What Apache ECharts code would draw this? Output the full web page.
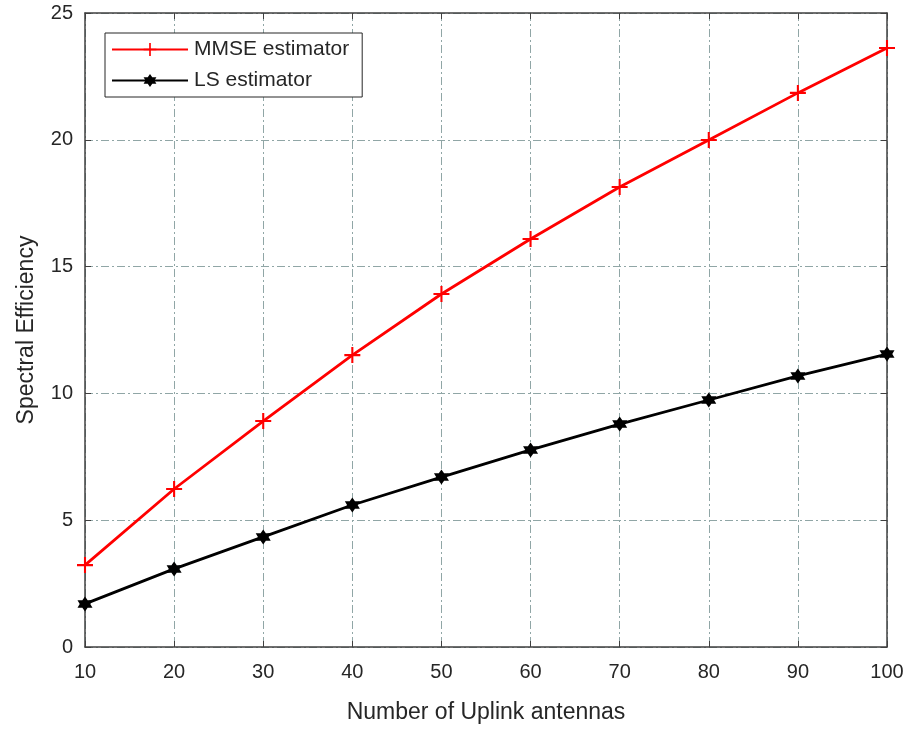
<!DOCTYPE html>
<html>
<head>
<meta charset="utf-8">
<script src="https://cdn.jsdelivr.net/npm/echarts@6/dist/echarts.min.js"></script>
<style>
  html, body { margin: 0; padding: 0; background: #fff; }
  #chart { width: 910px; height: 731px; }
</style>
</head>
<body>
<div id="chart"></div>
<script>
// Number of uplink antennas
const antennas = [10, 20, 30, 40, 50, 60, 70, 80, 90, 100];
// Spectral efficiency per estimator
const mmseValues = [3.23, 6.23, 8.91, 11.51, 13.92, 16.09, 18.14, 19.99, 21.85, 23.62];
const lsValues = [1.70, 3.08, 4.34, 5.60, 6.70, 7.77, 8.79, 9.74, 10.69, 11.55];
const yTicks = [0, 5, 10, 15, 20, 25];

const font = 'Liberation Sans, Arial, sans-serif';
const axisColor = '#404040';
const textColor = '#262626';
const gridLine = { show: true, lineStyle: { color: '#90a6a6', width: 1, type: [8, 3, 2, 3] } };
const axisLine = { show: true, onZero: false, lineStyle: { color: axisColor, width: 1.5 } };
const axisTick = { show: true, inside: true, length: 6, lineStyle: { color: axisColor, width: 1 } };

// plus-shaped marker
const plusPath = 'path://M-0.13,-1 L0.13,-1 L0.13,-0.13 L1,-0.13 L1,0.13 L0.13,0.13 L0.13,1 L-0.13,1 L-0.13,0.13 L-1,0.13 L-1,-0.13 L-0.13,-0.13 Z';
// asterisk-like marker
const starPath = 'path://M0,-1 L0.3,-0.5 L0.85,-0.5 L0.6,0 L0.85,0.5 L0.3,0.5 L0,1 L-0.3,0.5 L-0.85,0.5 L-0.6,0 L-0.85,-0.5 L-0.3,-0.5 Z';

const xRange = { type: 'value', min: antennas[0], max: antennas[antennas.length - 1], interval: 10 };
const yRange = { type: 'value', min: yTicks[0], max: yTicks[yTicks.length - 1], interval: 5 };

const chart = echarts.init(document.getElementById('chart'));
chart.setOption({
  animation: false,
  backgroundColor: '#fff',
  grid: { left: 85, right: 23, top: 13, bottom: 84 },
  xAxis: [
    Object.assign({}, xRange, {
      position: 'bottom',
      name: 'Number of Uplink antennas', nameLocation: 'middle', nameGap: 54,
      nameTextStyle: { fontFamily: font, fontSize: 23, color: textColor },
      axisLine: axisLine, axisTick: axisTick,
      axisLabel: { fontFamily: font, fontSize: 20, color: textColor, margin: 15 },
      splitLine: gridLine
    }),
    Object.assign({}, xRange, {
      position: 'top',
      axisLine: axisLine, axisTick: axisTick,
      axisLabel: { show: false }, splitLine: { show: false }
    })
  ],
  yAxis: [
    Object.assign({}, yRange, {
      position: 'left',
      name: 'Spectral Efficiency', nameLocation: 'middle', nameGap: 47,
      nameTextStyle: { fontFamily: font, fontSize: 23, color: textColor },
      axisLine: axisLine, axisTick: axisTick,
      axisLabel: { fontFamily: font, fontSize: 20, color: textColor, margin: 12 },
      splitLine: gridLine
    }),
    Object.assign({}, yRange, {
      position: 'right',
      axisLine: axisLine, axisTick: axisTick,
      axisLabel: { show: false }, splitLine: { show: false }
    })
  ],
  legend: {
    left: 105, top: 33, orient: 'vertical',
    padding: [6, 13, 6, 6],
    itemWidth: 76, itemHeight: 16, itemGap: 10,
    borderColor: textColor, borderWidth: 1, backgroundColor: '#fff',
    textStyle: { fontFamily: font, fontSize: 21, color: textColor, padding: [0, 0, 0, 1] },
    data: ['MMSE estimator', 'LS estimator']
  },
  series: [
    {
      name: 'MMSE estimator', type: 'line',
      data: antennas.map((a, i) => [a, mmseValues[i]]),
      color: '#ff0000',
      lineStyle: { width: 2.8, color: '#ff0000' },
      symbol: plusPath, symbolSize: 16,
      itemStyle: { color: '#ff0000' },
      z: 3
    },
    {
      name: 'LS estimator', type: 'line',
      data: antennas.map((a, i) => [a, lsValues[i]]),
      color: '#000',
      lineStyle: { width: 2.8, color: '#000' },
      symbol: starPath, symbolSize: 15,
      itemStyle: { color: '#000' },
      z: 3
    }
  ]
});
</script>
</body>
</html>
